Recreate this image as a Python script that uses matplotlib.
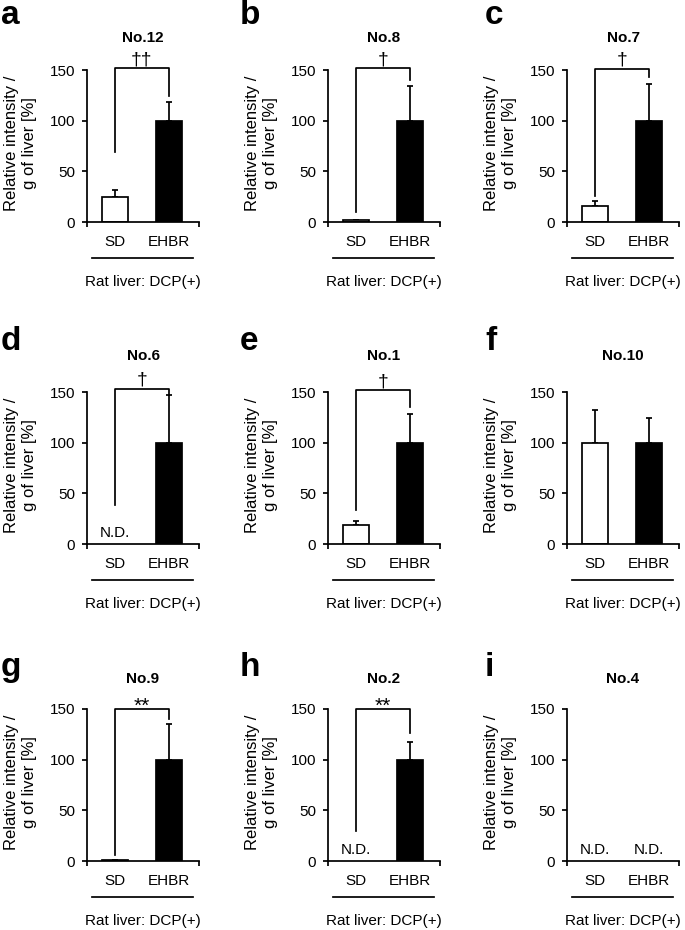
import matplotlib
matplotlib.use("Agg")
import matplotlib.pyplot as plt

plt.rcParams['font.family'] = ['Liberation Sans', 'DejaVu Sans']

# data
letters = ['a', 'b', 'c', 'd', 'e', 'f', 'g', 'h', 'i']
titles = ['No.12', 'No.8', 'No.7', 'No.6', 'No.1', 'No.10', 'No.9', 'No.2', 'No.4']
groups = ['SD', 'EHBR']
sd_mean = [25, 1.5, 16, None, 19, 100, 0.5, None, None]      # None = N.D.
sd_err = [6.5, 0.5, 4.5, 0, 4, 32.5, 0.3, 0, 0]
ehbr_mean = [100, 100, 100, 100, 100, 100, 100, 100, None]
ehbr_err = [18, 34, 36, 47, 28.5, 24.5, 35, 17.5, 0]
marks = ['††', '†', '†', '†', '†', '', '**', '**', '']
# bracket: top, left leg bottom, right leg bottom
brackets = [(151.5, 69, 124), (151.5, 10, 140), (151, 26, 143), (153, 38, 147),
            (151.5, 34, 135), None, (150, 6, 140), (150, 30, 126), None]

W, H = 685, 930
fig = plt.figure(figsize=(W / 100, H / 100), dpi=100)

col_left = [87, 328, 567]
row_top = [70, 392, 709]
ax_w, ax_h = 112, 152
title_y = [38, 356, 679]
letter_x = [1, 240, 485]
letter_y = [24, 350, 676]
lw = 1.25

for k in range(9):
    r, c = divmod(k, 3)
    ax = fig.add_axes([col_left[c] / W, 1 - (row_top[r] + ax_h) / H, ax_w / W, ax_h / H])

    vals = [sd_mean[k], ehbr_mean[k]]
    errs = [sd_err[k], ehbr_err[k]]
    colors = ['white', 'black']
    for i in range(2):
        if vals[i] is None:
            ax.annotate('N.D.', (i, 0), xytext=(0, 3), textcoords='offset points',
                        ha='center', va='bottom', fontsize=11)
            continue
        ax.bar(i, vals[i], width=0.485, color=colors[i], edgecolor='black', linewidth=lw, zorder=2)
        ax.errorbar(i, vals[i], yerr=[[0], [errs[i]]], fmt='none', ecolor='black',
                    elinewidth=lw, capsize=2.5, capthick=lw, zorder=1)

    if brackets[k] is not None:
        top, lb, rb = brackets[k]
        ax.plot([0, 0, 1, 1], [lb, top, top, rb], color='black', lw=lw, clip_on=False, zorder=3)
        if marks[k] == '**':
            ax.annotate(marks[k], (0.5, top), xytext=(0, -5), textcoords='offset points',
                        ha='center', va='bottom', fontsize=15, annotation_clip=False)
        else:
            ax.annotate(marks[k], (0.5, top), xytext=(0, 0), textcoords='offset points',
                        ha='center', va='bottom', fontsize=14, annotation_clip=False)

    ax.set_xlim(-0.51, 1.55)
    ax.set_ylim(0, 150)
    ax.set_yticks([0, 50, 100, 150])
    ax.set_xticks([0, 1])
    ax.set_xticklabels(groups)
    ax.set_xticks([-0.51, 1.55], minor=True)
    ax.tick_params(axis='x', which='major', length=0, pad=9, labelsize=11)
    ax.tick_params(axis='x', which='minor', length=3.5, width=lw, direction='out')
    ax.tick_params(axis='y', length=3.5, width=lw, pad=5, labelsize=11)
    for s in ['top', 'right']:
        ax.spines[s].set_visible(False)
    for s in ['left', 'bottom']:
        ax.spines[s].set_linewidth(lw)

    ax.set_ylabel('Relative intensity /\ng of liver [%]', fontsize=12, linespacing=1.2)
    ax.yaxis.set_label_coords(-0.45, 0.52)

    xt = ax.get_xaxis_transform()
    ax.plot([-0.41, 1.44], [-0.237, -0.237], color='black', lw=lw, transform=xt, clip_on=False)
    ax.text(0.5, -0.395, 'Rat liver: DCP(+)', transform=ax.transAxes, ha='center', va='center', fontsize=11)

    fig.text((col_left[c] + ax_w / 2) / W, 1 - title_y[r] / H, titles[k],
             ha='center', va='center', fontsize=11, fontweight='bold')
    fig.text(letter_x[c] / W, 1 - letter_y[r] / H, letters[k],
             ha='left', va='baseline', fontsize=24, fontweight='bold')

fig.savefig('out.png', dpi=100)
